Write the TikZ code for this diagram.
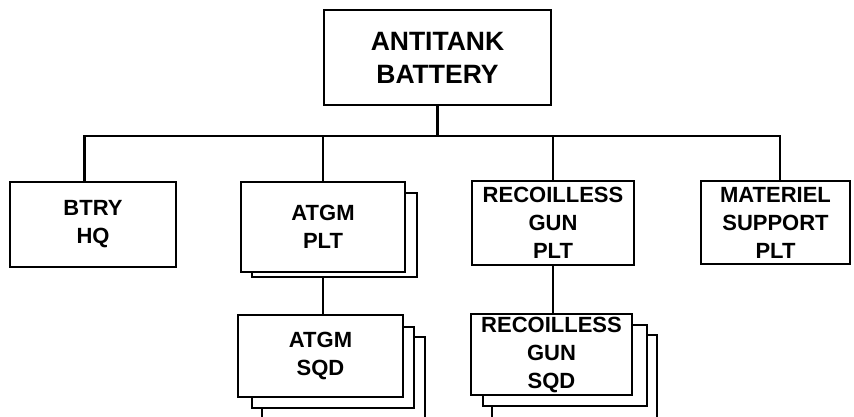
\documentclass[tikz,border=0pt]{standalone}
\usepackage{fontspec}
\setmainfont{Liberation Sans}
\usetikzlibrary{calc}
\tikzset{
  unit/.style={draw=black, line width=2.6pt, fill=white, align=center, inner sep=0pt,
    font=\bfseries\fontsize{22}{28}\selectfont},
  topunit/.style={unit, font=\bfseries\fontsize{26.5}{33}\selectfont},
  layer/.style={draw=black, line width=2.6pt, fill=white, inner sep=0pt},
  link/.style={draw=black, line width=2.6pt, line cap=rect}
}
\begin{document}
\begin{tikzpicture}[x=1pt,y=-1pt]
\useasboundingbox (0,0) rectangle (854,417);
% top
\node[topunit, minimum width=227pt, minimum height=95pt] (top) at (437.5,57.5) {ANTITANK\\BATTERY};
% second row
\node[unit, minimum width=166pt, minimum height=85pt] (hq) at (93,224.5) {BTRY\\HQ};
\node[layer, minimum width=165pt, minimum height=84pt] (atgmplt2) at (334.5,235) {};
\node[unit, minimum width=164pt, minimum height=90pt] (atgmplt) at (323,227) {ATGM\\PLT};
\node[unit, minimum width=162pt, minimum height=84pt] (rgplt) at (553,223) {RECOILLESS\\GUN\\PLT};
\node[unit, minimum width=149pt, minimum height=83pt] (msp) at (775.5,222.5) {MATERIEL\\SUPPORT\\PLT};
% third row
\node[layer, minimum width=163pt, minimum height=93pt] (atgmsqd3) at (343.5,383.5) {};
\node[layer, minimum width=162pt, minimum height=81pt] (atgmsqd2) at (333,367.5) {};
\node[unit, minimum width=165pt, minimum height=82pt] (atgmsqd) at (320.5,356) {ATGM\\SQD};
\node[layer, minimum width=165pt, minimum height=95pt] (rgsqd3) at (574.5,382.5) {};
\node[layer, minimum width=164pt, minimum height=81pt] (rgsqd2) at (565,365.5) {};
\node[unit, minimum width=161pt, minimum height=81pt] (rgsqd) at (551.5,354.5) {RECOILLESS\\GUN\\SQD};
% connectors
\coordinate (bus) at (0,136);
\coordinate (hqtop) at ($(hq.north west)!0.45!(hq.north east)$);
\coordinate (msptop) at ($(msp.north west)!0.53!(msp.north east)$);
\draw[link] (top.south) -- (top.south |- bus);
\draw[link] (hqtop) -- (hqtop |- bus) -- (msptop |- bus) -- (msptop);
\draw[link] (atgmplt.north |- bus) -- (atgmplt.north);
\draw[link] (rgplt.north |- bus) -- (rgplt.north);
\draw[link] (atgmplt2.south -| atgmplt.south) -- (atgmsqd.north -| atgmplt.south);
\draw[link] (rgplt.south) -- (rgsqd.north -| rgplt.south);
\end{tikzpicture}
\end{document}
